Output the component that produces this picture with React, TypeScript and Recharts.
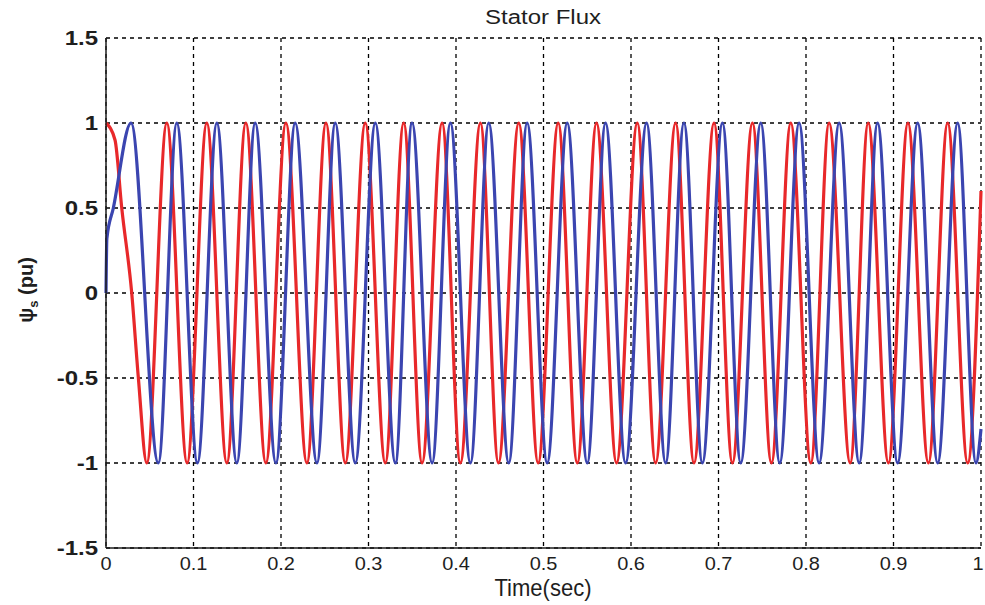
import { CartesianGrid, Line, LineChart, XAxis, YAxis } from "recharts";

const redTime = [
  0, 0.0103, 0.018, 0.0294, 0.037, 0.0466,
  0.0695, 0.0927, 0.1152, 0.1381, 0.1598, 0.1827, 0.2056, 0.2296, 0.2514, 0.2735,
  0.2963, 0.3192, 0.3402, 0.3612, 0.3841, 0.405, 0.4279, 0.4485, 0.4717, 0.4939,
  0.5168, 0.5386, 0.5606, 0.5835, 0.6072, 0.6281, 0.651, 0.672, 0.6949, 0.7159,
  0.7388, 0.7605, 0.7826, 0.8055, 0.8264, 0.8505, 0.8711, 0.8942, 0.9165, 0.9399,
  0.9619, 0.9848, 1,
];
const redFlux = [
  1, 0.9, 0.5, 0, -0.5, -1,
  1, -1, 1, -1, 1, -1, 1, -1, 1, -1,
  1, -1, 1, -1, 1, -1, 1, -1, 1, -1,
  1, -1, 1, -1, 1, -1, 1, -1, 1, -1,
  1, -1, 1, -1, 1, -1, 1, -1, 1, -1,
  1, -1, 0.6,
];

const blueTime = [
  0, 0.001, 0.0084,
  0.0286, 0.0598, 0.0809, 0.1045, 0.1267, 0.1495, 0.1705, 0.1942, 0.2162, 0.2411,
  0.262, 0.2849, 0.3078, 0.3307, 0.3498, 0.3727, 0.3936, 0.4165, 0.4374, 0.4603,
  0.4813, 0.5042, 0.5271, 0.55, 0.5709, 0.5938, 0.6178, 0.6396, 0.6605, 0.6816,
  0.7045, 0.7254, 0.7483, 0.77, 0.7921, 0.815, 0.8379, 0.8608, 0.8818, 0.9047,
  0.9276, 0.9505, 0.9733, 0.9943, 1,
];
const blueFlux = [
  0, 0.32, 0.5,
  1, -1, 1, -1, 1, -1, 1, -1, 1, -1,
  1, -1, 1, -1, 1, -1, 1, -1, 1, -1,
  1, -1, 1, -1, 1, -1, 1, -1, 1, -1,
  1, -1, 1, -1, 1, -1, 1, -1, 1, -1,
  1, -1, 1, -1, -0.8,
];

const xTicks = [0, 0.1, 0.2, 0.3, 0.4, 0.5, 0.6, 0.7, 0.8, 0.9, 1];
const yTicks = [-1.5, -1, -0.5, 0, 0.5, 1, 1.5];

const redData = redTime.map((t, i) => ({ t, flux: redFlux[i] }));
const blueData = blueTime.map((t, i) => ({ t, flux: blueFlux[i] }));

const FONT = "'Liberation Sans', Arial, sans-serif";
const INK = "#1e1e1e";

function XTick({ x, y, payload }: any) {
  // last label sits on the page edge, nudge it in a little
  const nudge = payload.value === 1 ? -3 : 0;
  return (
    <text x={0} y={0} transform={`translate(${x + nudge},${y}) scale(1.05,1)`} dy="0.71em"
      textAnchor="middle" fontFamily={FONT} fontSize={19} fill={INK}>
      {payload.value}
    </text>
  );
}

function YTick({ x, y, payload }: any) {
  return (
    <text x={0} y={0} transform={`translate(${x},${y}) scale(1.2,1)`} dy="0.36em"
      textAnchor="end" fontFamily={FONT} fontSize={20} fontWeight="bold" fill={INK}>
      {payload.value}
    </text>
  );
}

export default function App() {
  return (
    <div style={{ position: "absolute", left: 0, top: 0, width: 985, height: 605, background: "#fff", fontFamily: FONT }}>
      <LineChart width={985} height={605} margin={{ top: 38, right: 4, bottom: 27, left: 46 }}>
        <CartesianGrid stroke="#000" strokeWidth={1.3} strokeDasharray="4 4" />
        <XAxis dataKey="t" type="number" domain={[0, 1]} ticks={xTicks} height={30}
          axisLine={{ stroke: INK, strokeWidth: 1.5 }} tickLine={false} tick={<XTick />} />
        <XAxis xAxisId="top" orientation="top" type="number" domain={[0, 1]} height={0}
          axisLine={{ stroke: INK, strokeWidth: 1.5 }} tickLine={false} tick={false} />
        <YAxis type="number" domain={[-1.5, 1.5]} ticks={yTicks} width={60}
          axisLine={{ stroke: INK, strokeWidth: 1.5 }} tickLine={false} tick={<YTick />} />
        <YAxis yAxisId="right" orientation="right" type="number" domain={[-1.5, 1.5]} width={0}
          axisLine={{ stroke: INK, strokeWidth: 1.5 }} tickLine={false} tick={false} />
        <Line data={redData} dataKey="flux" type="monotone" stroke="#e8282a" strokeWidth={3.2}
          dot={false} isAnimationActive={false} />
        <Line data={blueData} dataKey="flux" type="monotone" stroke="#3b45b0" strokeWidth={3.2}
          dot={false} isAnimationActive={false} />
      </LineChart>

      <div style={{ position: "absolute", left: 443, width: 200, top: 6, textAlign: "center", fontSize: 20, color: INK, transform: "scaleX(1.2)" }}>
        Stator Flux
      </div>
      <div style={{ position: "absolute", left: 443, width: 200, top: 577, lineHeight: "21px", textAlign: "center", fontSize: 21, color: INK, transform: "scale(1.05,1.1)" }}>
        Time(sec)
      </div>
      <div style={{
        position: "absolute", left: 28, top: 290, whiteSpace: "nowrap", fontSize: 20, fontWeight: "bold", color: INK,
        transform: "translate(-50%, -50%) rotate(-90deg)",
      }}>
        ψ<sub style={{ fontSize: 13 }}>s</sub> (pu)
      </div>
    </div>
  );
}
